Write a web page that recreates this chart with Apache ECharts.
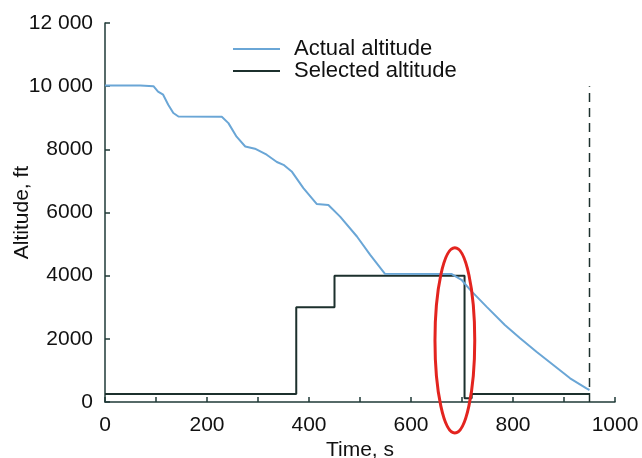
<!DOCTYPE html>
<html>
<head>
<meta charset="utf-8">
<script src="https://cdn.jsdelivr.net/npm/echarts@6/dist/echarts.min.js"></script>
<style>
  html, body { margin: 0; padding: 0; background: #fff; }
  #chart { width: 642px; height: 458px; }
</style>
</head>
<body>
<div id="chart"></div>
<script>
// Actual altitude (time s, altitude ft)
const actualTime = [0, 69, 95, 104, 114, 124, 134, 144, 229, 242, 258, 275, 294, 317, 337, 350, 366, 389, 415, 438, 461, 494, 520, 549, 680, 699, 716, 748, 784, 814, 846, 879, 912, 944, 950]
const actualAlt = [10020, 10020, 10000, 9830, 9730, 9410, 9150, 9040, 9030, 8830, 8400, 8090, 8020, 7830, 7600, 7510, 7300, 6770, 6270, 6240, 5870, 5240, 4660, 4060, 4050, 3870, 3550, 3020, 2440, 2020, 1590, 1170, 750, 430, 380]

// Selected altitude corners (step trace)
const selectedTime = [0, 375, 375, 450, 450, 705, 705, 719, 719, 950]
const selectedAlt = [250, 250, 3000, 3000, 4000, 4000, 120, 120, 250, 250]

// Dashed marker at end of record
const markerTime = [950, 950]
const markerAlt = [0, 10000]

// Red highlight ellipse: centre and radii in data units
const ellipseCenter = [686, 1950]
const ellipseRadius = [39, 2930]

const yTickLabels = { 0: '0', 2000: '2000', 4000: '4000', 6000: '6000', 8000: '8000', 10000: '10 000', 12000: '12 000' }

const zip = (xs, ys) => xs.map((x, i) => [x, ys[i]])

const axisColor = '#1f3a37'
const font = '"Liberation Sans", Arial, sans-serif'

const chart = echarts.init(document.getElementById('chart'))

chart.setOption({
  animation: false,
  textStyle: { fontFamily: font },
  grid: { left: 105, right: 27, top: 23, bottom: 56, containLabel: false, outerBoundsMode: 'none' },
  legend: {
    orient: 'vertical',
    left: 228,
    top: 33,
    itemWidth: 47,
    itemHeight: 2,
    itemGap: 0,
    icon: 'rect',
    textStyle: { fontSize: 22, color: '#111', lineHeight: 21, padding: [0, 0, 0, 9], fontFamily: font },
    data: ['Actual altitude', 'Selected altitude']
  },
  xAxis: {
    type: 'value',
    min: 0,
    max: 1000,
    interval: 200,
    name: 'Time, s',
    nameLocation: 'middle',
    nameGap: 38,
    nameMoveOverlap: false,
    nameTextStyle: { fontSize: 21, color: '#111', fontFamily: font },
    axisLine: { lineStyle: { color: axisColor, width: 1.5 } },
    axisTick: { inside: true, length: 5, lineStyle: { color: axisColor, width: 1.5 } },
    minorTick: { show: true, splitNumber: 2, length: 5, lineStyle: { color: axisColor, width: 1.5 } },
    axisLabel: { fontSize: 21, color: '#111', margin: 13, fontFamily: font, formatter: v => String(v) },
    splitLine: { show: false }
  },
  yAxis: {
    type: 'value',
    min: 0,
    max: 12000,
    interval: 2000,
    name: 'Altitude, ft',
    nameLocation: 'middle',
    nameGap: 72,
    nameMoveOverlap: false,
    nameTextStyle: { fontSize: 21, color: '#111', fontFamily: font },
    axisLine: { show: true, lineStyle: { color: axisColor, width: 1.5 } },
    axisTick: { show: true, inside: true, length: 5, lineStyle: { color: axisColor, width: 1.5 } },
    axisLabel: { fontSize: 21, color: '#111', margin: 12, fontFamily: font, formatter: v => yTickLabels[v] || String(v) },
    splitLine: { show: false }
  },
  series: [
    {
      name: 'Selected altitude',
      type: 'line',
      data: zip(selectedTime, selectedAlt),
      showSymbol: false,
      color: '#1c302d',
      lineStyle: { width: 2, color: '#1c302d' }
    },
    {
      name: 'Actual altitude',
      type: 'line',
      data: zip(actualTime, actualAlt),
      showSymbol: false,
      color: '#6aa6d6',
      lineStyle: { width: 2, color: '#6aa6d6' }
    },
    {
      name: 'marker',
      type: 'line',
      data: zip(markerTime, markerAlt),
      showSymbol: false,
      lineStyle: { width: 1.5, color: '#1c302d', type: [9, 6] }
    }
  ]
})

// Red ellipse placed through the axes' scales
const c = chart.convertToPixel({ gridIndex: 0 }, ellipseCenter)
const edge = chart.convertToPixel({ gridIndex: 0 }, [ellipseCenter[0] + ellipseRadius[0], ellipseCenter[1] + ellipseRadius[1]])
chart.setOption({
  graphic: [{
    type: 'ellipse',
    shape: { cx: c[0], cy: c[1], rx: Math.abs(edge[0] - c[0]), ry: Math.abs(c[1] - edge[1]) },
    style: { fill: 'none', stroke: '#e3241f', lineWidth: 3 },
    z: 100
  }]
})
</script>
</body>
</html>
